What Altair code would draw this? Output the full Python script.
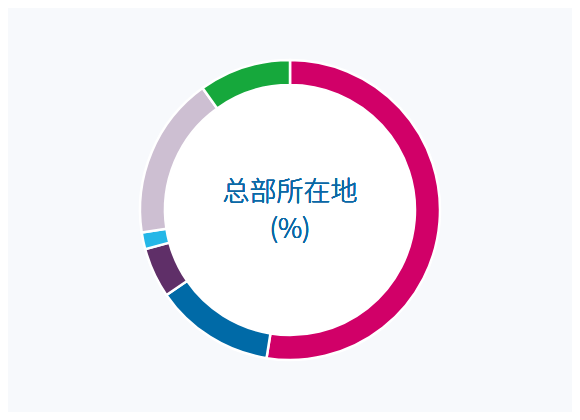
import altair as alt
import pandas as pd

categories = ["类别一", "类别二", "类别三", "类别四", "类别五", "类别六"]
values = [52.5, 12.9, 5.4, 1.8, 17.5, 9.9]
colors = ["#d10068", "#006aa7", "#5f2f68", "#25b7e7", "#cdbfd2", "#16a83c"]
order = [1, 2, 3, 4, 5, 6]
title_lines = ["总部所在地", "(%)"]

df = pd.DataFrame({"cat": categories, "val": values, "ord": order})

W, H = 564, 404

ring = alt.Chart(df).mark_arc(
    outerRadius=150, innerRadius=125, stroke="white", strokeWidth=2.5
).encode(
    theta=alt.Theta("val:Q", stack=True),
    order=alt.Order("ord:Q"),
    color=alt.Color("cat:N", scale=alt.Scale(domain=categories, range=colors), legend=None),
)

disc = alt.Chart(df).mark_arc(outerRadius=124, innerRadius=0, color="white").encode(
    theta=alt.value(0), theta2=alt.value(6.2832)
)

t1 = alt.Chart(df).mark_text(
    font="Noto Sans CJK SC", fontSize=27, fontWeight=300, color="#0b69a6",
    baseline="middle", align="center"
).encode(x=alt.value(W / 2), y=alt.value(184.5), text=alt.value(title_lines[0]))

t2 = alt.Chart(df).mark_text(
    font="Noto Sans CJK SC", fontSize=27, fontWeight=300, color="#0b69a6",
    baseline="middle", align="center"
).encode(x=alt.value(W / 2), y=alt.value(222), text=alt.value(title_lines[1]))

chart = alt.layer(disc, ring, t1, t2).properties(
    width=W, height=H, background="#f7f9fc", padding=0,
    autosize=alt.AutoSizeParams(type="none"),
).configure_view(stroke=None)

chart.save("out.html", embed_options={"renderer": "svg", "actions": False})
